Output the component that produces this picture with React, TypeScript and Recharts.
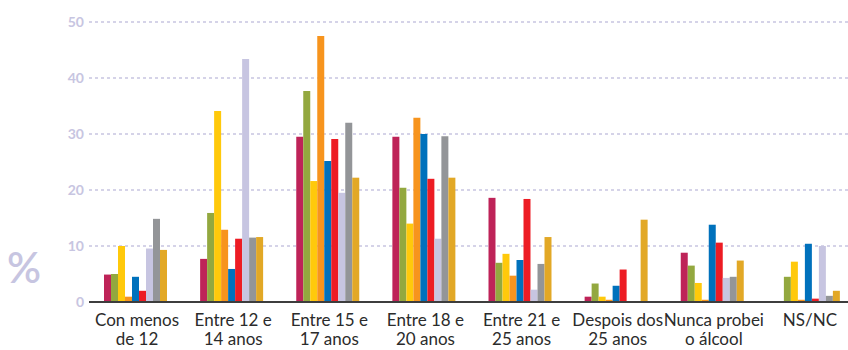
import React from 'react';
import { BarChart, Bar, XAxis, YAxis, CartesianGrid } from 'recharts';

const categories = [
  'Con menos\nde 12',
  'Entre 12 e\n14 anos',
  'Entre 15 e\n17 anos',
  'Entre 18 e\n20 anos',
  'Entre 21 e\n25 anos',
  'Despois dos\n25 anos',
  'Nunca probei\no álcool',
  'NS/NC',
];

const serie1 = [4.9, 7.7, 29.5, 29.5, 18.6, 0.95, 8.8, 0];
const serie2 = [5.0, 15.9, 37.7, 20.4, 7.0, 3.3, 6.5, 4.5];
const serie3 = [10.0, 34.1, 21.6, 14.0, 8.6, 0.95, 3.4, 7.2];
const serie4 = [0.95, 12.9, 47.5, 32.9, 4.7, 0.4, 0.4, 0.4];
const serie5 = [4.5, 5.9, 25.2, 30.0, 7.5, 2.9, 13.8, 10.4];
const serie6 = [2.0, 11.3, 29.1, 22.0, 18.4, 5.8, 10.6, 0.6];
const serie7 = [9.55, 43.4, 19.5, 11.3, 2.2, 0, 4.3, 10.0];
const serie8 = [14.85, 11.5, 32.0, 29.6, 6.8, 0, 4.5, 1.1];
const serie9 = [9.3, 11.6, 22.2, 22.2, 11.6, 14.7, 7.4, 2.0];

const yTicks = [0, 10, 20, 30, 40, 50];

const series = [
  { key: 's1', values: serie1, color: '#be2358' },
  { key: 's2', values: serie2, color: '#93a83f' },
  { key: 's3', values: serie3, color: '#ffc90b' },
  { key: 's4', values: serie4, color: '#f7941d' },
  { key: 's5', values: serie5, color: '#0071bc' },
  { key: 's6', values: serie6, color: '#ed1c24' },
  { key: 's7', values: serie7, color: '#c7c5e1' },
  { key: 's8', values: serie8, color: '#939598' },
  { key: 's9', values: serie9, color: '#e2a826' },
];

const data = categories.map((name, i) => {
  const row: Record<string, string | number> = { name };
  series.forEach((s) => {
    row[s.key] = s.values[i];
  });
  return row;
});

const CategoryTick = (props: any) => {
  const { x, y, payload } = props;
  const lines = String(payload.value).split('\n');
  return (
    <text x={x} y={y} textAnchor="middle" fill="#2b2b2b" fontSize={17} fontFamily="Lato, sans-serif">
      {lines.map((l, i) => (
        <tspan key={i} x={x} y={y + 24 + i * 19}>
          {l}
        </tspan>
      ))}
    </text>
  );
};

const PercentLabel = () => (
  <text x={7} y={283} fill="#c7c5e1" fontSize={42} fontWeight={600} fontFamily="Lato, sans-serif">
    %
  </text>
);

export default function App() {
  return (
    <div style={{ position: 'absolute', left: 0, top: 0, width: 848, height: 350, overflow: 'hidden', background: '#fff' }}>
      <BarChart
        width={858}
        height={350}
        data={data}
        margin={{ top: 22, right: 0, left: 0, bottom: 0 }}
        barCategoryGap={15}
        barGap={0}
      >
        <CartesianGrid vertical={false} stroke="#c7c5e1" strokeWidth={1.5} strokeDasharray="3 3" />
        <XAxis
          dataKey="name"
          height={48}
          tickLine={false}
          tickSize={0}
          tickMargin={0}
          axisLine={{ stroke: '#3d3d3d', strokeWidth: 2 }}
          tick={<CategoryTick />}
          interval={0}
        />
        <YAxis
          width={89}
          domain={[0, 50]}
          ticks={yTicks}
          axisLine={false}
          tickLine={false}
          tickSize={0}
          tickMargin={5}
          tick={{ fill: '#c7c5e1', fontSize: 14, fontWeight: 700, fontFamily: 'Lato, sans-serif' }}
          label={<PercentLabel />}
        />
        {series.map((s) => (
          <Bar key={s.key} dataKey={s.key} fill={s.color} isAnimationActive={false} />
        ))}
      </BarChart>
    </div>
  );
}
